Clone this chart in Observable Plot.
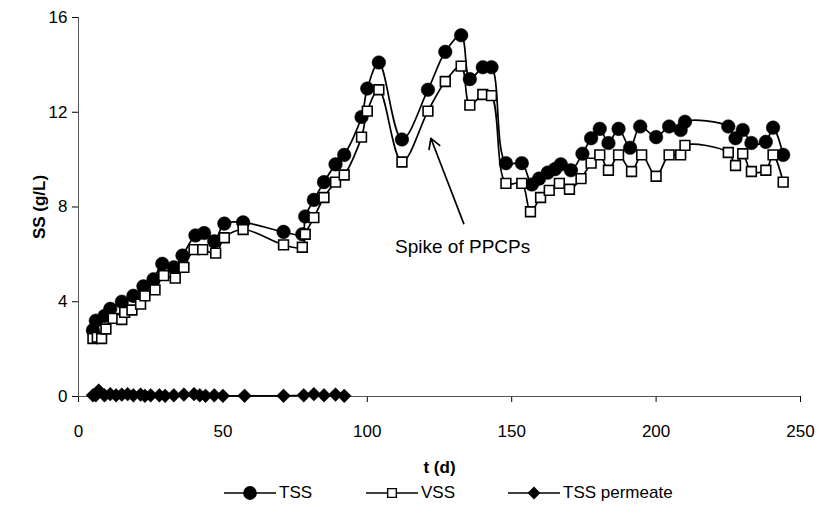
<!DOCTYPE html>
<html>
<head>
<meta charset="utf-8">
<script src="https://cdn.jsdelivr.net/npm/d3@7"></script>
<script src="https://cdn.jsdelivr.net/npm/@observablehq/plot@0.6"></script>
<style>
  html, body { margin: 0; padding: 0; background: #fff; }
  #wrap { width: 822px; height: 517px; position: relative; font-family: "Liberation Sans", Arial, sans-serif; }
  #legend { position: relative; width: 822px; height: 37px; }
  .li { position: absolute; top: 3px; height: 20px; display: flex; align-items: center; font-size: 17px; color: #000; }
  .li svg { display: block; }
</style>
</head>
<body>
<div id="wrap">
  <div id="chart"></div>
  <div id="legend"></div>
</div>
<script>
// ---- data ----
const tssT = [5, 6, 9, 11, 15, 19, 22.5, 26, 29, 33, 36, 40.5, 43.5, 47, 50.5, 57, 71, 77.5, 78.5, 81.5, 85, 89, 92, 98, 100, 104, 112, 121, 127, 132.5, 135.5, 140, 143, 148, 153.5, 157, 159.5, 162.5, 165, 167, 170.5, 174.5, 177.5, 180.5, 183.5, 187, 191, 194.5, 200, 204.5, 208.5, 210, 225, 227.5, 230, 233, 238, 240.5, 244];
const tssV = [2.8, 3.2, 3.4, 3.7, 4.0, 4.25, 4.65, 4.95, 5.6, 5.45, 5.95, 6.8, 6.9, 6.55, 7.3, 7.35, 6.95, 6.85, 7.6, 8.3, 9.05, 9.8, 10.2, 11.8, 13.0, 14.1, 10.85, 12.95, 14.55, 15.25, 13.4, 13.9, 13.9, 9.85, 9.85, 8.95, 9.2, 9.45, 9.6, 9.8, 9.55, 10.25, 10.9, 11.3, 10.7, 11.3, 10.5, 11.4, 10.95, 11.4, 11.25, 11.6, 11.4, 10.9, 11.25, 10.7, 10.75, 11.35, 10.2];

const vssT = [5, 6.5, 8, 9.5, 12, 15, 16, 18.5, 21.5, 23, 26.5, 29.5, 33.5, 36.5, 40, 43, 47.5, 50.5, 57, 71, 77.5, 78.5, 81.5, 85, 89, 92, 98, 100, 104, 112, 121, 127, 132.5, 135.5, 140, 143, 148, 153.5, 156.5, 160, 163, 166.5, 170, 174, 177.5, 180.5, 183.5, 187, 191.5, 195, 200, 204.5, 208.5, 210, 225, 227.5, 230, 233, 238, 240.5, 244];
const vssV = [2.45, 2.5, 2.45, 2.85, 3.3, 3.25, 3.55, 3.65, 3.9, 4.25, 4.5, 5.1, 5.0, 5.45, 6.2, 6.2, 6.05, 6.7, 7.05, 6.4, 6.3, 6.85, 7.55, 8.4, 9.05, 9.35, 10.95, 12.05, 12.95, 9.9, 12.05, 13.3, 13.95, 12.3, 12.75, 12.7, 9.0, 9.0, 7.8, 8.4, 8.7, 9.0, 8.75, 9.2, 9.85, 10.2, 9.55, 10.2, 9.5, 10.2, 9.3, 10.2, 10.2, 10.6, 10.3, 9.75, 10.25, 9.5, 9.55, 10.2, 9.05];

const permT = [5, 6, 7, 9, 11, 13, 15, 17, 19, 21.5, 23, 25, 28, 30, 33, 36.5, 40, 42, 44, 47, 50, 57.5, 71, 78, 81.5, 85, 89, 92];
const permV = [0.05, 0.05, 0.25, 0.05, 0.1, 0.05, 0.08, 0.1, 0.05, 0.08, 0.03, 0.05, 0.05, 0.03, 0.05, 0.08, 0.1, 0.05, 0.03, 0.05, 0.03, 0.03, 0.03, 0.05, 0.1, 0.05, 0.08, 0.03];

const xTicks = [0, 50, 100, 150, 200, 250];
const yTicks = [0, 4, 8, 12, 16];

const seriesNames = ["TSS", "VSS", "TSS permeate"];
const annotation = [{label: "Spike of PPCPs", textT: 133, textV: 6.3, tailT: 133.4, tailV: 7.3, headT: 122, headV: 10.9}];

// ---- build tables ----
const tss = tssT.map((t, i) => ({t, v: tssV[i]}));
const vss = vssT.map((t, i) => ({t, v: vssV[i]}));
const perm = permT.map((t, i) => ({t, v: permV[i]}));

const chart = Plot.plot({
  width: 822,
  height: 480,
  marginLeft: 78,
  marginRight: 22,
  marginTop: 17,
  marginBottom: 84,
  style: {fontFamily: '"Liberation Sans", Arial, sans-serif', fontSize: "17px", background: "#fff", color: "#000"},
  x: {domain: [0, 250], ticks: xTicks, tickSize: 6, tickPadding: 22, label: "t (d)", labelAnchor: "center", labelOffset: 76, labelArrow: "none"},
  y: {domain: [0, 16], ticks: yTicks, tickSize: 6, tickPadding: 5, label: "SS (g/L)", labelAnchor: "center", labelOffset: 46, labelArrow: "none"},
  marks: [
    Plot.ruleX([0], {stroke: "#555"}),
    Plot.ruleY([0], {stroke: "#555"}),
    Plot.line(tss, {x: "t", y: "v", curve: "catmull-rom", stroke: "#000", strokeWidth: 1.7}),
    Plot.dot(tss, {x: "t", y: "v", symbol: "circle", r: 6.8, fill: "#000", stroke: "#000", strokeWidth: 0.5}),
    Plot.line(vss, {x: "t", y: "v", curve: "catmull-rom", stroke: "#000", strokeWidth: 1.7}),
    Plot.dot(vss, {x: "t", y: "v", symbol: "square", r: 5.5, fill: "#fff", stroke: "#000", strokeWidth: 1.6}),
    Plot.line(perm, {x: "t", y: "v", stroke: "#000", strokeWidth: 1.7}),
    Plot.dot(perm, {x: "t", y: "v", symbol: "diamond2", r: 6.2, fill: "#000", stroke: "#000", strokeWidth: 0.5}),
    Plot.arrow(annotation, {x1: "tailT", y1: "tailV", x2: "headT", y2: "headV", stroke: "#000", strokeWidth: 1.7, headLength: 10}),
    Plot.text(annotation, {x: "textT", y: "textV", text: "label", fontSize: 19, fill: "#000"})
  ]
});
document.getElementById("chart").appendChild(chart);

// bold axis titles
chart.querySelectorAll("text").forEach(t => {
  if (t.textContent === "t (d)" || t.textContent === "SS (g/L)") { t.style.fontWeight = "bold"; }
});

// ---- legend ----
const legend = d3.select("#legend");
const legendLeft = [224, 366, 508];
const symbols = ["circle", "square", "diamond2"];
seriesNames.forEach((name, i) => {
  const item = legend.append("div").attr("class", "li").style("left", legendLeft[i] + "px");
  const s = item.append("svg").attr("width", 55).attr("height", 20);
  s.append("line").attr("x1", 0).attr("x2", 52).attr("y1", 10).attr("y2", 10).attr("stroke", "#000").attr("stroke-width", 1.6);
  const sym = {circle: d3.symbolCircle, square: d3.symbolSquare, diamond2: d3.symbolDiamond2}[symbols[i]];
  const size = i === 0 ? 120 : 75;
  s.append("path").attr("d", d3.symbol(sym, size)()).attr("transform", "translate(26,10)")
    .attr("fill", i === 1 ? "#fff" : "#000").attr("stroke", "#000").attr("stroke-width", 1.4);
  item.append("span").text(name);
});
</script>
</body>
</html>
